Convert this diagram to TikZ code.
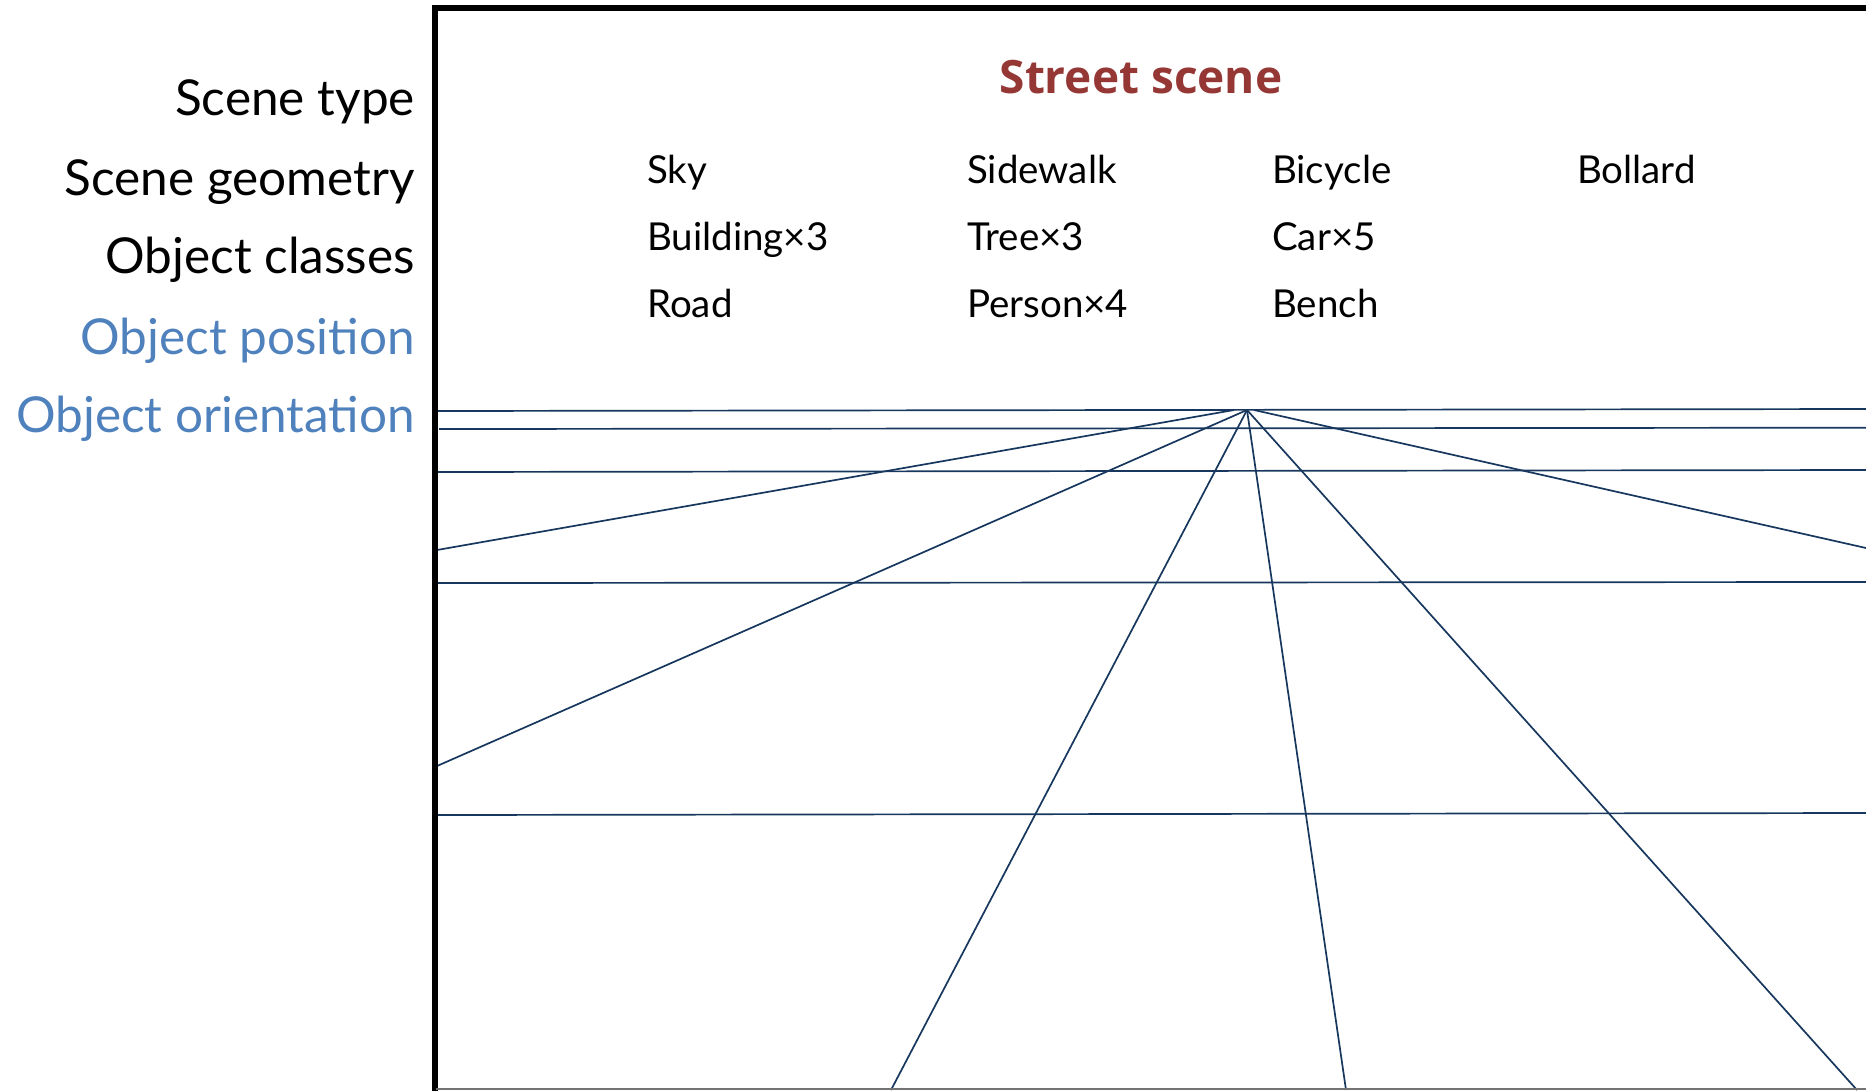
\documentclass[tikz,border=0pt]{standalone}
\usepackage{fontspec}
\setmainfont{Lato}
\newfontfamily\titlefont{Open Sans}
\definecolor{lblblue}{HTML}{4F81BD}
\definecolor{titlered}{HTML}{953735}
\definecolor{navy}{HTML}{17375E}
\begin{document}
\begin{tikzpicture}[x=1pt,y=-1pt,
  lbl/.style={anchor=base east,inner sep=0pt,font=\fontsize{49.5}{51}\selectfont},
  obj/.style={anchor=base west,inner sep=0pt,font=\fontsize{38.5}{40}\selectfont},
  pline/.style={navy,line width=1.7pt}]
\useasboundingbox (0,0) rectangle (1866,1090);
\begin{scope}
\clip (0,0) rectangle (1866,1090);
% perspective lines
\coordinate (vp) at (1247,410);
\coordinate (h1l) at (437,411);   \coordinate (h1r) at (1866,409);
\coordinate (h2l) at (439,429);   \coordinate (h2r) at (1866,427.7);
\coordinate (h3l) at (437,472);   \coordinate (h3r) at (1866,470);
\coordinate (h4l) at (437,583);   \coordinate (h4r) at (1866,582);
\coordinate (h5l) at (437,815);   \coordinate (h5r) at (1866,813);
\draw[pline] (h1l) -- (h1r);
\draw[pline] (h2l) -- (h2r);
\draw[pline] (h3l) -- (h3r);
\draw[pline] (h4l) -- (h4r);
\draw[pline] (h5l) -- (h5r);
\coordinate (vpl) at (1234,410);
\coordinate (vpr) at (1254,410);
\coordinate (r1) at (437,550);
\coordinate (r2) at (437,766);
\coordinate (r3) at (891,1090);
\coordinate (r4) at (1346,1090);
\coordinate (r5) at (1857,1090);
\coordinate (r6) at (1866,548);
\draw[pline] (vpl) -- (r1);
\draw[pline] (vp) -- (r2);
\draw[pline] (vp) -- (r3);
\draw[pline] (vp) -- (r4);
\draw[pline] (vp) -- (r5);
\draw[pline] (vpr) -- (r6);
% frame
\coordinate (fbl) at (435,1095);
\coordinate (ftl) at (435,8);
\coordinate (ftr) at (1875,8);
\draw[line width=5.5pt] (fbl) -- (ftl) -- (ftr);
\coordinate (bl) at (436,1089);
\coordinate (br) at (1866,1089);
\draw[gray!90!black,line width=1.5pt] (bl) -- (br);
\end{scope}
% left labels
\node[lbl] (l1) at (415,115) {Scene type};
\node[lbl] (l2) at (415,195) {Scene geometry};
\node[lbl] (l3) at (415,273) {Object classes};
\node[lbl,text=lblblue] (l4) at (415,354) {Object position};
\node[lbl,text=lblblue] (l5) at (415,432) {Object orientation};
% title
\node[anchor=base,inner sep=0pt,text=titlered,font=\titlefont\bfseries\fontsize{46}{48}\selectfont] (title) at (1141,93) {Street scene};
% objects
\node[obj] (o11) at (647,183) {Sky};
\node[obj] (o12) at (647,250) {Building×3};
\node[obj] (o13) at (647,317) {Road};
\node[obj] (o21) at (967,183) {Sidewalk};
\node[obj] (o22) at (967,250) {Tree×3};
\node[obj] (o23) at (967,317) {Person×4};
\node[obj] (o31) at (1272,183) {Bicycle};
\node[obj] (o32) at (1272,250) {Car×5};
\node[obj] (o33) at (1272,317) {Bench};
\node[obj] (o41) at (1577,183) {Bollard};
\end{tikzpicture}
\end{document}
